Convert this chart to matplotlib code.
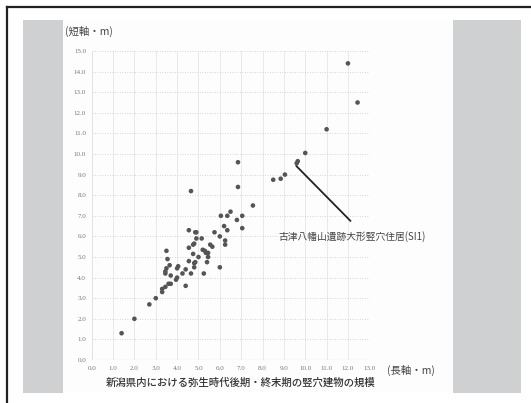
import matplotlib
matplotlib.use("Agg")
import matplotlib.pyplot as plt
from matplotlib.patches import Rectangle
from matplotlib.lines import Line2D

plt.rcParams['font.family'] = ['Noto Sans CJK JP', 'DejaVu Sans']

# long axis (m) and short axis (m) of pit buildings
long_axis = [1.4, 2.0, 2.7, 3.0, 3.3, 3.3, 3.45, 3.5, 3.55, 3.5, 3.45, 3.45, 3.65, 3.6,
             3.7, 3.7, 3.95, 4.05, 4.0, 4.0, 4.25, 4.4, 4.4, 4.55, 4.55, 4.55, 4.65, 4.65,
             4.75, 4.75, 4.85, 4.9, 4.8, 4.8, 4.8, 4.85, 4.9, 5.0, 5.15, 5.2, 5.25, 5.3,
             5.35, 5.45, 5.4, 5.45, 5.55, 5.65, 5.75, 6.0, 6.0, 6.05, 6.2, 6.25, 6.25,
             6.35, 6.35, 6.5, 6.85, 6.85, 6.8, 7.05, 7.05, 7.55, 8.5, 8.85, 9.05, 9.6,
             9.65, 10.0, 11.0, 12.0, 12.45]
short_axis = [1.3, 2.0, 2.7, 3.0, 3.45, 3.3, 3.55, 5.3, 4.9, 4.45, 4.3, 4.2, 4.6, 3.7,
              3.7, 4.1, 3.9, 4.55, 4.45, 4.0, 4.2, 3.6, 4.4, 6.3, 4.8, 5.45, 4.2, 8.2,
              5.15, 5.6, 6.2, 6.2, 5.65, 4.7, 4.5, 4.75, 5.9, 5.0, 5.9, 5.35, 4.2, 5.3,
              5.2, 5.0, 4.75, 5.2, 5.6, 5.5, 6.2, 4.5, 6.0, 7.0, 6.5, 5.8, 5.6,
              6.3, 7.0, 7.2, 9.6, 8.4, 6.8, 7.0, 6.4, 7.5, 8.75, 8.8, 9.0, 9.55,
              9.65, 10.05, 11.2, 14.4, 12.5]

x_ticks = list(range(0, 14))
y_ticks = list(range(0, 16))
x_tick_labels = [f"{v:.1f}" for v in x_ticks]
y_tick_labels = [f"{v:.1f}" for v in y_ticks]

y_label = "(短軸・m)"
x_label = "(長軸・m)"
title = "新潟県内における弥生時代後期・終末期の竪穴建物の規模"
note = "古津八幡山遺跡大形竪穴住居(SI1)"

W, H = 531, 403
fig = plt.figure(figsize=(W / 100, H / 100), dpi=100)
fig.patch.set_facecolor('white')

def fx(px):
    return px / W

def fy(py):
    return 1 - py / H

# gray scan panel and white paper
fig.patches.append(Rectangle((fx(23), fy(393)), fx(521) - fx(23), fy(20) - fy(393),
                             transform=fig.transFigure, facecolor='#cfd0d2', edgecolor='none', zorder=-2))
fig.patches.append(Rectangle((fx(63), fy(393)), fx(453) - fx(63), fy(20) - fy(393),
                             transform=fig.transFigure, facecolor='#fdfdfd', edgecolor='none', zorder=-1))
# black frame (left and top)
fig.lines.append(Line2D([fx(7), fx(7)], [0, fy(7)], transform=fig.transFigure, color='#222', lw=1.6))
fig.lines.append(Line2D([fx(7), 1], [fy(7), fy(7)], transform=fig.transFigure, color='#222', lw=1.6))

ax = fig.add_axes([fx(91.7), fy(360), fx(369.3) - fx(91.7), fy(51) - fy(360)], zorder=5)
ax.set_facecolor('none')
ax.patch.set_alpha(0)
ax.set_xlim(0, 13)
ax.set_ylim(0, 15)
for s in ax.spines.values():
    s.set_visible(False)
ax.set_xticks(x_ticks)
ax.set_yticks(y_ticks)
ax.set_xticklabels(x_tick_labels, family='Liberation Serif', fontsize=5, color='#777')
ax.set_yticklabels(y_tick_labels, family='Liberation Serif', fontsize=5, color='#777')
ax.tick_params(length=0, pad=4)
ax.xaxis.grid(True, color='#e6e6e6', lw=0.6, ls='-')
ax.yaxis.grid(True, color='#c8c8c8', lw=0.6, ls=(0, (1, 2)))
ax.set_axisbelow(True)
ax.axhline(0, color='#aaa', lw=0.8, ls=(0, (4, 1)), zorder=1)
ax.axvline(0, color='#e0e0e0', lw=0.6, zorder=1)

ax.scatter(long_axis, short_axis, s=11, color='#555', edgecolors='none', zorder=3, clip_on=False)

ax.annotate('', xy=(9.58, 9.42), xytext=(12.12, 6.75),
            arrowprops=dict(arrowstyle='-', color='#222', lw=1.3, shrinkA=0, shrinkB=0))
ax.text(12.2, 5.97, note, ha='center', va='center', fontsize=7, color='#444')

fig.text(fx(65), fy(31), y_label, ha='left', va='center', fontsize=7.5, color='#444')
fig.text(fx(387), fy(370), x_label, ha='left', va='center', fontsize=7.5, color='#444')
fig.text(fx(241), fy(383), title, ha='center', va='center', fontsize=7.5, color='#333',
         fontweight='medium')

fig.savefig('out.png', dpi=100)
